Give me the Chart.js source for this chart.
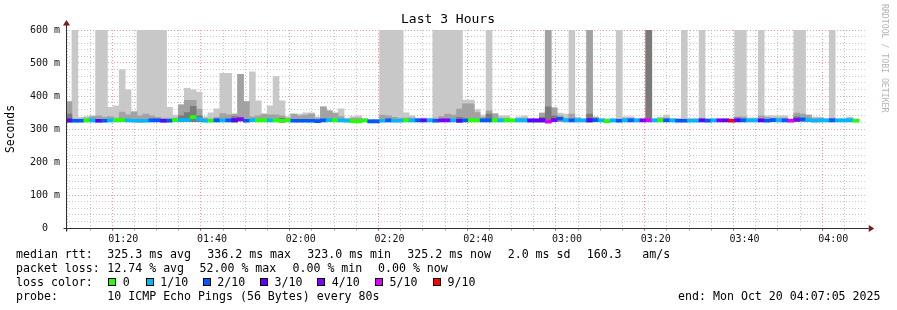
<!DOCTYPE html>
<html>
<head>
<meta charset="utf-8">
<script src="https://cdn.jsdelivr.net/npm/chart.js@4.4.1/dist/chart.umd.min.js"></script>
<style>
  html, body { margin: 0; padding: 0; background: #fff; }
  #wrap { width: 897px; height: 310px; }
</style>
</head>
<body>
<div id="wrap"><canvas id="graph" width="897" height="310"></canvas></div>
<script>
// time window, in minutes after midnight
const startMin = 67 + 5 / 60;   // 01:07:05
const endMin = 247 + 5 / 60;    // 04:07:05
const stepMin = 80 / 60;        // one ping round every 80s

// median rtt per step (ms)
const median = [
  326,325,325,326,326,325,325,326,326,327, 326,325,325,325,326,326,325,325,327,327,
  327,336,330,325,325,326,326,326,327,330, 325,327,326,326,326,326,325,326,325,325,
  325,325,324,326,327,326,326,325,324,323, 326,323,323,325,326,325,325,326,326,326,
  326,326,325,326,326,326,325,326,326,326, 326,326,326,326,326,326,326,326,326,326,
  327,322,327,331,326,326,326,326,327,327, 326,324,326,325,326,326,326,326,326,326,
  326,326,326,325,325,325,325,326,325,326, 326,326,325,326,326,326,326,326,325,327,
  326,326,325,328,329,327,325,326,326,326, 326,326,326,325
];

// lost pings out of 10 per step
const lossCount = [
  3,2,2,0,1,3,2,1,0,0, 1,1,1,1,2,2,3,2,0,1,
  1,0,1,1,0,2,1,2,3,4, 2,1,0,0,1,0,0,0,2,2,
  2,2,2,2,1,0,1,1,0,0, 0,2,2,1,2,1,1,0,1,2,
  3,1,2,4,4,1,3,2,0,0, 2,2,0,1,0,0,1,1,3,3,
  3,5,4,2,1,2,1,1,3,2, 1,0,1,2,1,2,1,4,5,1,
  0,2,1,2,2,1,1,3,2,1, 4,3,9,3,2,1,1,3,2,2,
  1,2,5,4,2,1,1,1,1,2, 1,1,1,0
];

// smoke: lowest ping, top of dark / mid / light layers (ms)
const smokeMin = [
  321,322,322,322,322,321,322,322,322,322, 322,322,321,322,322,322,321,322,322,322,
  322,322,322,322,322,322,322,322,321,322, 322,322,322,322,322,322,321,322,322,322,
  322,322,321,322,322,322,322,322,321,320, 322,320,320,322,322,322,322,322,322,322,
  322,322,322,322,322,322,321,322,322,322, 322,322,322,322,322,322,322,322,321,321,
  321,319,322,322,322,322,322,322,321,322, 322,321,322,322,322,322,322,322,322,322,
  322,322,322,322,322,322,322,322,322,322, 322,322,322,322,322,322,322,322,322,322,
  322,322,322,322,322,322,322,322,322,322, 322,322,322,322
];
const smokeMax = [
  383,600,335,338,340,600,600,366,370,479, 419,352,600,600,600,600,600,366,342,373,
  423,419,412,337,349,361,469,469,345,466, 383,473,385,345,370,459,385,338,345,345,
  349,349,337,367,355,348,361,333,338,340, 331,328,328,600,600,600,600,349,340,333,
  333,333,600,600,600,600,600,388,388,359, 342,600,346,340,340,330,337,340,330,330,
  348,600,364,348,345,600,335,330,600,337, 330,330,330,600,337,337,330,330,600,330,
  336,342,330,332,600,332,332,600,332,330, 330,330,330,600,600,334,334,600,340,340,
  340,340,330,600,600,342,336,336,330,600, 330,330,336,330
];
const smokeMid = [
  383,330,330,333,338,340,336,338,333,351, 343,352,340,345,340,335,333,333,333,373,
  387,387,360,333,330,335,347,343,345,466, 383,337,340,345,343,343,340,333,345,340,
  342,345,333,367,355,348,338,331,333,333, 330,328,328,342,340,335,333,333,333,331,
  330,330,333,338,345,342,360,376,376,350, 335,355,346,333,333,330,332,333,330,330,
  348,600,364,340,333,345,333,330,600,335, 330,330,330,330,333,333,330,330,600,330,
  333,333,330,330,330,330,330,333,330,330, 330,330,330,337,337,330,330,340,335,333,
  333,333,330,348,345,342,333,333,330,333, 330,330,332,330
];
const smokeDark = [
  345,null,null,null,null,null,null,null,null,null, null,null,null,null,null,null,null,null,null,340,
  350,369,340,null,null,null,null,null,338,null, null,null,null,null,null,null,332,null,null,null,
  null,null,null,null,null,null,null,null,null,null, null,null,null,null,null,null,null,null,null,null,
  null,null,null,null,null,null,335,null,null,null, null,345,null,null,null,null,null,null,null,null,
  335,367,340,null,null,null,null,null,345,null, null,null,null,null,null,null,null,null,600,null,
  null,null,null,null,null,null,null,null,null,null, null,null,null,333,null,null,null,null,null,null,
  null,null,null,338,null,null,null,null,null,null, null,null,null,null
];

// legend texts
const rttLine = ['median rtt:', '325.3 ms avg', '336.2 ms max', '323.0 ms min', '325.2 ms now', '2.0 ms sd', '160.3', 'am/s'];
const lossLine = ['packet loss:', '12.74 % avg', '52.00 % max', '0.00 % min', '0.00 % now'];
const lossLabels = ['0', '1/10', '2/10', '3/10', '4/10', '5/10', '9/10'];
const lossSwatch = ['#26ff00', '#00b8ff', '#0059ff', '#5e00ff', '#7e00ff', '#dd00ff', '#ff0000'];
const probeText = '10 ICMP Echo Pings (56 Bytes) every 80s';
const endText = 'end: Mon Oct 20 04:07:05 2025';

const MONO = '"DejaVu Sans Mono", monospace';

function lossColor(n) {
  if (n >= 9) return lossSwatch[6];
  return lossSwatch[Math.min(n, 5)];
}

const times = median.map((_, i) => startMin + (i + 0.5) * stepMin);

function hhmm(v) {
  const h = Math.floor(v / 60), m = Math.round(v % 60);
  return String(h).padStart(2, '0') + ':' + String(m).padStart(2, '0');
}

const xTicks = [];
for (let v = Math.ceil(startMin / 5) * 5; v <= endMin; v += 5) xTicks.push(v);
const yTicks = [];
for (let v = 0; v <= 600; v += 20) yTicks.push(v);

const decor = {
  id: 'decor',
  afterDraw(chart) {
    const ctx = chart.ctx;
    const { left, right, top, bottom } = chart.chartArea;
    const ax = Math.round(left) + 0.5, ay = Math.round(bottom) + 0.5;
    ctx.save();

    // axes + arrows
    ctx.strokeStyle = '#303030';
    ctx.lineWidth = 1;
    ctx.beginPath();
    ctx.moveTo(ax, ay + 3); ctx.lineTo(ax, top - 5);
    ctx.moveTo(ax - 3, ay); ctx.lineTo(right + 4, ay);
    ctx.stroke();
    ctx.fillStyle = '#7a1c1c';
    ctx.beginPath();
    ctx.moveTo(ax - 3.5, top - 4.5); ctx.lineTo(ax + 3.5, top - 4.5); ctx.lineTo(ax, top - 10); ctx.closePath();
    ctx.fill();
    ctx.beginPath();
    ctx.moveTo(right + 4, ay - 3.5); ctx.lineTo(right + 4, ay + 3.5); ctx.lineTo(right + 9.5, ay); ctx.closePath();
    ctx.fill();

    // title
    ctx.fillStyle = '#000';
    ctx.textBaseline = 'middle';
    ctx.textAlign = 'center';
    ctx.font = '13px ' + MONO;
    ctx.fillText('Last 3 Hours', 448, 19.5);

    // y title
    ctx.font = '11.4px ' + MONO;
    ctx.save();
    ctx.translate(11, (top + bottom) / 2);
    ctx.rotate(-Math.PI / 2);
    ctx.fillText('Seconds', 0, 0);
    ctx.restore();

    // watermark
    ctx.save();
    ctx.fillStyle = '#b4b4b4';
    ctx.font = '8.2px ' + MONO;
    ctx.textAlign = 'left';
    ctx.translate(884, 4);
    ctx.rotate(Math.PI / 2);
    ctx.fillText('RRDTOOL / TOBI OETIKER', 0, 0);
    ctx.restore();

    // legend rows
    ctx.textAlign = 'left';
    ctx.font = '11.6px ' + MONO;
    const rttX = [16, 107.3, 207.3, 307.3, 407.3, 507.7, 586.7, 642.3];
    rttLine.forEach((t, i) => ctx.fillText(t, rttX[i], 254.5));
    const lossX = [16, 107.3, 199.5, 292.5, 378];
    lossLine.forEach((t, i) => ctx.fillText(t, lossX[i], 268.5));
    ctx.fillText('loss color:', 16, 282.5);
    const boxX = [108.3, 145.7, 202.7, 260, 317.3, 375, 433];
    boxX.forEach((bx, i) => {
      ctx.fillStyle = lossSwatch[i];
      ctx.fillRect(Math.round(bx), 278, 7, 7);
      ctx.strokeStyle = '#000';
      ctx.strokeRect(Math.round(bx) + 0.5, 278.5, 7, 7);
      ctx.fillStyle = '#000';
      ctx.fillText(lossLabels[i], bx + 14.5, 282.5);
    });
    ctx.fillText('probe:', 16, 296.5);
    ctx.fillText(probeText, 107.3, 296.5);
    ctx.textAlign = 'right';
    ctx.fillText(endText, 880.5, 296.5);
    ctx.restore();
  }
};

const majorGrid = '#eaa0a0';
const minorGrid = '#c6c6c6';

new Chart(document.getElementById('graph'), {
  type: 'bar',
  data: {
    datasets: [
      {
        label: 'median',
        data: times.map((t, i) => ({ x: t, y: [median[i] - 4.5, median[i] + 4.5] })),
        backgroundColor: lossCount.map(lossColor),
        order: 0
      },
      {
        label: 'smoke dark',
        data: times.map((t, i) => ({ x: t, y: smokeDark[i] === null ? null : [smokeMin[i], smokeDark[i]] }))
          .filter(p => p.y !== null),
        backgroundColor: '#7a7a7a',
        order: 1
      },
      {
        label: 'smoke mid',
        data: times.map((t, i) => ({ x: t, y: [smokeMin[i], smokeMid[i]] })),
        backgroundColor: '#a2a2a2',
        order: 2
      },
      {
        label: 'smoke',
        data: times.map((t, i) => ({ x: t, y: [smokeMin[i], smokeMax[i]] })),
        backgroundColor: '#c8c8c8',
        order: 3
      }
    ]
  },
  options: {
    responsive: false,
    animation: false,
    devicePixelRatio: 1,
    layout: { padding: { left: 0, right: 32.25, top: 30, bottom: 62 } },
    datasets: { bar: { barPercentage: 1, categoryPercentage: 1, grouped: false, borderWidth: 0 } },
    plugins: { legend: { display: false }, tooltip: { enabled: false } },
    scales: {
      x: {
        type: 'linear',
        min: startMin,
        max: endMin,
        offset: false,
        z: 1,
        afterFit: s => { s.height = 20; },
        afterBuildTicks: s => { s.ticks = xTicks.map(v => ({ value: v })); },
        grid: {
          color: c => (c.tick && c.tick.value % 20 === 0) ? majorGrid : minorGrid,
          tickColor: c => (c.tick && c.tick.value % 20 === 0) ? '#e07070' : '#b8b8b8',
          tickBorderDash: [],
          drawTicks: true,
          tickLength: 3
        },
        border: { display: false, dash: [1, 2] },
        ticks: {
          autoSkip: false,
          maxRotation: 0,
          padding: 2,
          color: '#111',
          font: { family: MONO, size: 10 },
          callback: v => (v % 20 === 0 ? hhmm(v) : '')
        }
      },
      y: {
        min: 0,
        max: 600,
        z: 1,
        afterFit: s => { s.width = 66; },
        afterBuildTicks: s => { s.ticks = yTicks.map(v => ({ value: v })); },
        grid: {
          color: c => (c.tick && c.tick.value % 100 === 0) ? majorGrid : minorGrid,
          drawTicks: false
        },
        border: { display: false, dash: [1, 2] },
        ticks: {
          autoSkip: false,
          padding: 6,
          color: '#111',
          font: { family: MONO, size: 10 },
          callback: v => (v % 100 !== 0 ? '' : (v === 0 ? '0  ' : v + ' m'))
        }
      }
    }
  },
  plugins: [decor]
});
</script>
</body>
</html>
